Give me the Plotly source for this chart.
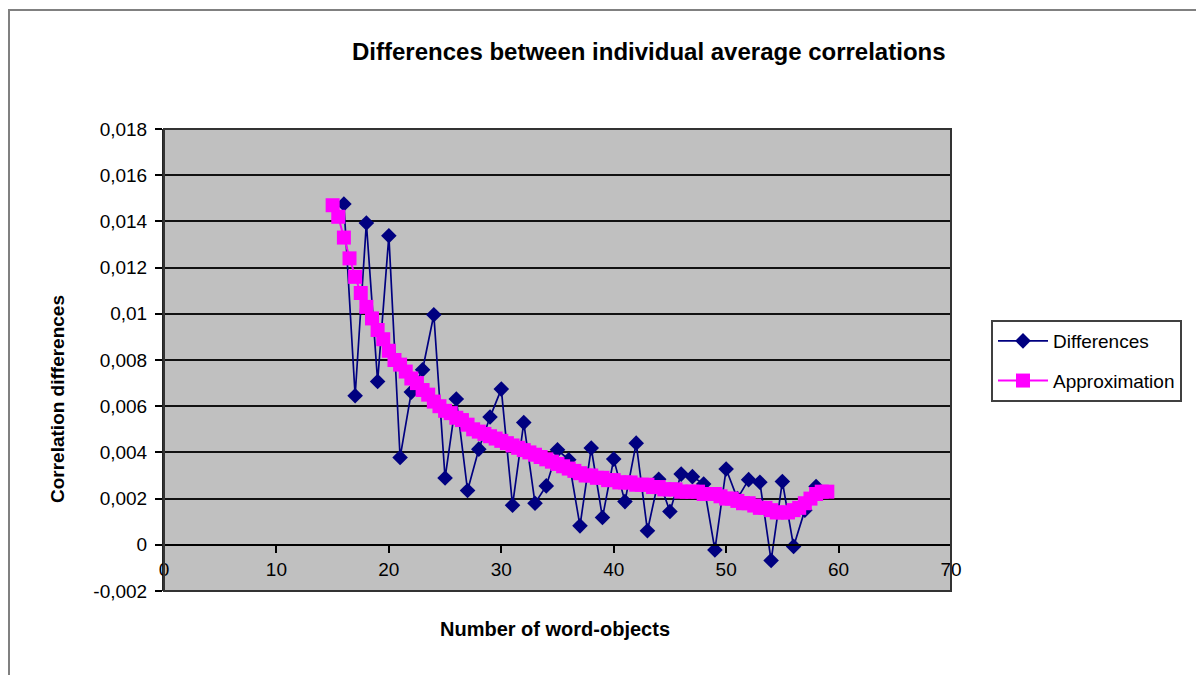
import plotly.graph_objects as go

# Observed differences of individual average correlations by number of word-objects
diff_x = list(range(16, 59))
diff_y = [
    0.01475, 0.00645, 0.01393, 0.00707, 0.01338, 0.00378, 0.00661, 0.00758,
    0.00996, 0.00289, 0.00631, 0.00235, 0.00414, 0.00553, 0.00674, 0.00171,
    0.00529, 0.00180, 0.00255, 0.00411, 0.00368, 0.00082, 0.00419, 0.00118,
    0.00371, 0.00187, 0.00440, 0.00061, 0.00284, 0.00144, 0.00306, 0.00295,
    0.00263, -0.00022, 0.00328, 0.00200, 0.00282, 0.00271, -0.00068, 0.00274,
    -0.00007, 0.00150, 0.00252,
]

# Smoothed approximation curve, sampled every half step from 15 to 59
approx_x = [15 + 0.5 * i for i in range(89)]
approx_y = [
    0.0147, 0.0142, 0.0133, 0.0124, 0.0116, 0.0109, 0.0103, 0.0098, 0.0093,
    0.0089, 0.0084, 0.0080, 0.0078, 0.0075, 0.0072, 0.0070, 0.0067, 0.0065,
    0.0062, 0.0060, 0.0058, 0.0057, 0.0055, 0.0054, 0.0052, 0.0050, 0.0049,
    0.0048, 0.0047, 0.0046, 0.0045, 0.0044, 0.0043, 0.0042, 0.0041, 0.0040,
    0.0039, 0.0038, 0.0037, 0.0036, 0.0035, 0.0034, 0.0033, 0.0032, 0.0031,
    0.0030, 0.0030, 0.0029, 0.0029, 0.0028, 0.0028, 0.0027, 0.0027, 0.0027,
    0.0026, 0.0026, 0.0026, 0.0025, 0.0025, 0.0024, 0.0024, 0.0024, 0.0023,
    0.0023, 0.0023, 0.0023, 0.0022, 0.0022, 0.0022, 0.0021, 0.0020, 0.0020,
    0.0019, 0.0018, 0.0018, 0.0017, 0.0016, 0.0016, 0.0015, 0.0014, 0.0014,
    0.0014, 0.0015, 0.0016, 0.0018, 0.0020, 0.0022, 0.0023, 0.0023,
]

y_ticks = [-0.002, 0, 0.002, 0.004, 0.006, 0.008, 0.01, 0.012, 0.014, 0.016, 0.018]
y_tick_text = ["-0,002", "0", "0,002", "0,004", "0,006", "0,008", "0,01",
               "0,012", "0,014", "0,016", "0,018"]
x_ticks = [0, 10, 20, 30, 40, 50, 60, 70]

FONT = "Liberation Sans, Arial, sans-serif"
W, H = 1196, 675
L, R, T, B = 164, 245, 129, 84
plot_w, plot_h = W - L - R, H - T - B

def px_x(p):
    return (p - L) / plot_w

def px_y(p):
    return (H - B - p) / plot_h

fig = go.Figure()
fig.add_trace(go.Scatter(
    x=diff_x, y=diff_y, name="Differences", mode="lines+markers",
    legendgroup="d",
    line=dict(color="#000080", width=1.7),
    marker=dict(symbol="diamond", size=12, color="#000080"),
))
fig.add_trace(go.Scatter(
    x=approx_x, y=approx_y, name="Approximation", mode="lines+markers",
    legendgroup="a",
    line=dict(color="#FF00FF", width=2),
    marker=dict(symbol="square", size=14, color="#FF00FF"),
))

zero_pos = (0 - (-0.002)) / (0.018 - (-0.002))

fig.update_layout(
    width=W, height=H,
    margin=dict(l=L, r=R, t=T, b=B, pad=0),
    paper_bgcolor="white",
    plot_bgcolor="#C0C0C0",
    font=dict(family=FONT, size=19, color="black"),
    showlegend=True,
    legend=dict(
        x=px_x(991), y=px_y(320), xanchor="left", yanchor="top",
        bgcolor="white", bordercolor="#404040", borderwidth=2,
        font=dict(family=FONT, size=19, color="black"),
        itemwidth=50, tracegroupgap=12,
    ),
    xaxis=dict(
        range=[0, 70], tickvals=x_ticks, ticks="outside", ticklen=7,
        tickcolor="black", tickwidth=1.5, showgrid=False, zeroline=False,
        showline=True, linecolor="black", linewidth=2,
        anchor="free", position=zero_pos,
        tickfont=dict(family=FONT, size=19, color="black"),
    ),
    yaxis=dict(
        range=[-0.002, 0.018], tickvals=y_ticks, ticktext=y_tick_text,
        ticks="outside", ticklen=7, tickcolor="black", tickwidth=1.5,
        ticklabelstandoff=4,
        showgrid=True, gridcolor="#111111", gridwidth=1.5, zeroline=False,
        showline=True, linecolor="#222222", linewidth=2,
        tickfont=dict(family=FONT, size=19, color="black"),
    ),
    annotations=[
        dict(text="<b>Differences between individual average correlations</b>",
             x=px_x(649), y=px_y(52), xref="paper", yref="paper",
             xanchor="center", yanchor="middle",
             showarrow=False, font=dict(family=FONT, size=24, color="black")),
        dict(text="<b>Correlation differences</b>", textangle=-90,
             x=px_x(57), y=px_y(399), xref="paper", yref="paper",
             xanchor="center", yanchor="middle",
             showarrow=False, font=dict(family=FONT, size=19, color="black")),
        dict(text="<b>Number of word-objects</b>",
             x=px_x(555), y=px_y(629), xref="paper", yref="paper",
             xanchor="center", yanchor="middle",
             showarrow=False, font=dict(family=FONT, size=20, color="black")),
    ],
    shapes=[
        # plot area frame
        dict(type="rect", xref="paper", yref="paper", x0=0, y0=0, x1=1, y1=1,
             line=dict(color="#333333", width=2), layer="above"),
        # outer chart frame
        dict(type="rect", xref="paper", yref="paper",
             x0=px_x(9), y0=px_y(10), x1=px_x(1210), y1=px_y(690),
             line=dict(color="#808080", width=2), layer="above"),
    ],
)

fig.write_html("out.html")
